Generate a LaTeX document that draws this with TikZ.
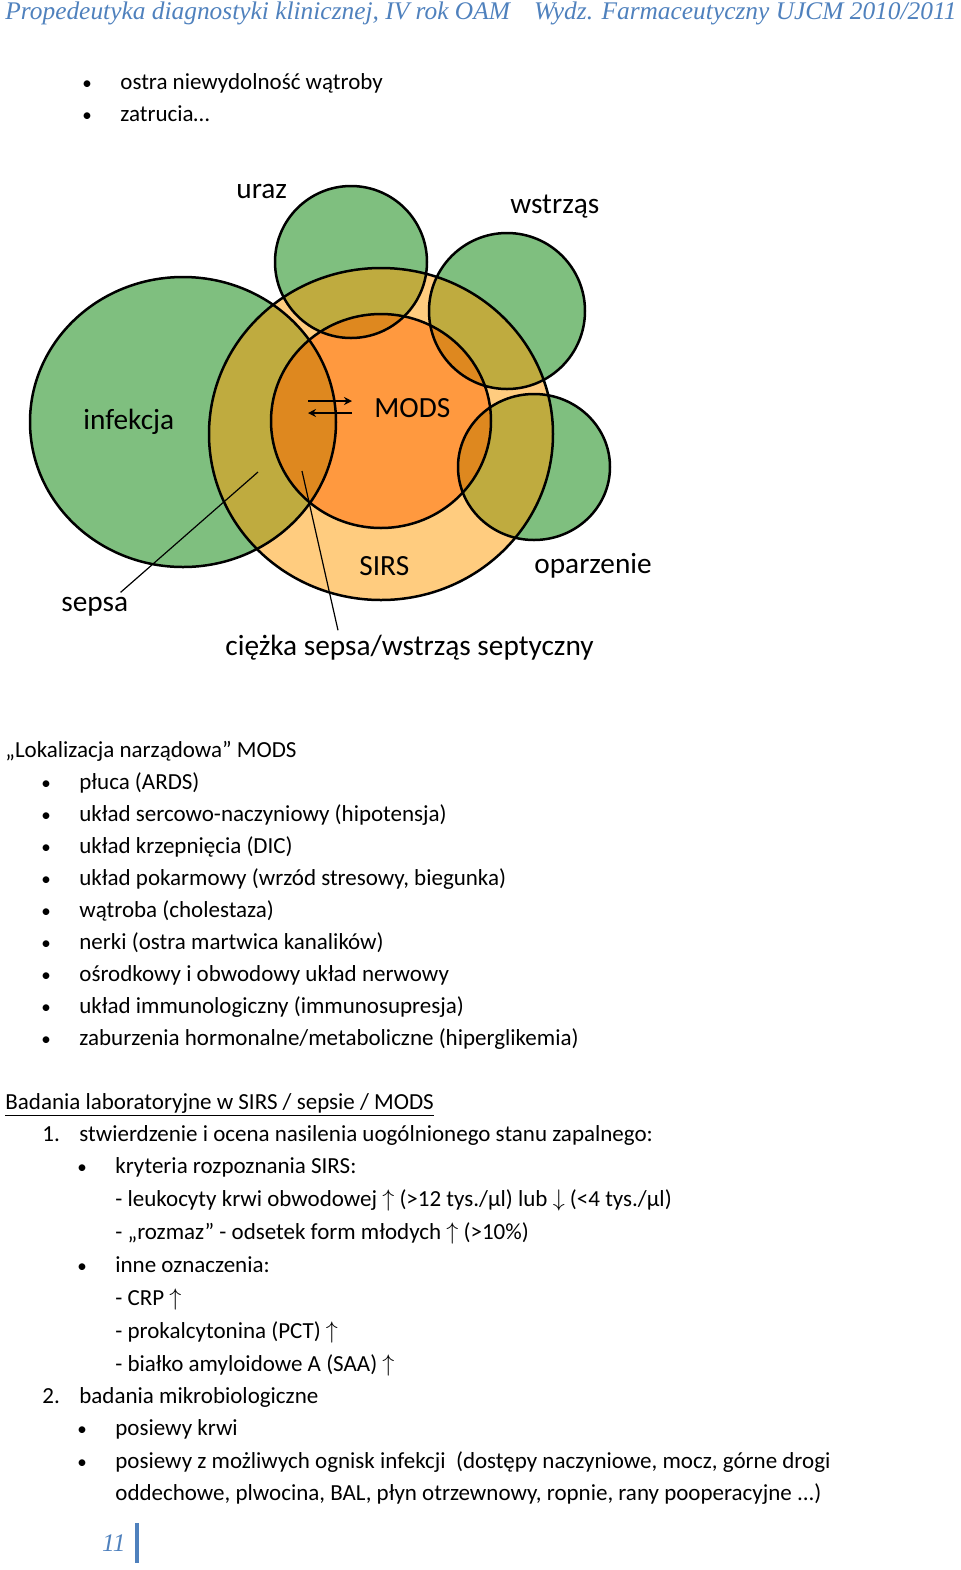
\documentclass[tikz,border=0pt]{standalone}
\usepackage{fontspec}
\setmainfont{Carlito}
\newfontfamily\hdrfont{Liberation Serif}
\usetikzlibrary{arrows.meta,positioning}
\definecolor{hdrblue}{RGB}{79,129,189}
\definecolor{grn}{RGB}{0,128,0}
\definecolor{sirsor}{RGB}{255,153,0}
\definecolor{modsor}{RGB}{255,102,0}

\begin{document}
\begin{tikzpicture}[x=0.5pt,y=-0.5pt,
  txt/.style={anchor=base west,inner sep=0pt,font=\fontsize{11.5}{13}\selectfont},
  dot/.style={anchor=base west,inner sep=0pt,font=\fontsize{9.5}{11}\selectfont},
  lbl/.style={anchor=base west,inner sep=0pt,font=\fontsize{14.65}{17}\selectfont},
  hdr/.style={inner sep=0pt,text=hdrblue,font=\hdrfont\itshape\fontsize{12.7}{14}\selectfont},
  ring/.style={line width=1.25pt},
  pointer/.style={line width=0.6pt},
  swap arrow/.style={line width=1pt,-{Stealth[length=4pt,width=4pt]}}]
\useasboundingbox (0,0) rectangle (960,1570);

% header
\node[hdr,anchor=base west] (hdrL) at (5,19) {Propedeutyka diagnostyki klinicznej, IV rok OAM};
\node[hdr,anchor=base east] (hdrR) at (957,19) {Wydz. Farmaceutyczny UJCM 2010/2011};

% top list
\node[dot] (b1) at (82,89) {•};   \node[txt] (t1) at (120,89) {ostra niewydolność wątroby};
\node[dot] (b2) at (82,121) {•};  \node[txt] (t2) at (120,121) {zatrucia…};

% circles
\coordinate (uraz) at (351,262);
\coordinate (wstrzas) at (507,311);
\coordinate (infekcja) at (183,422);
\coordinate (oparzenie) at (534,467);
\coordinate (sirs) at (381,434);
\coordinate (mods) at (381,421);
\fill[grn,fill opacity=0.5] (uraz) circle [radius=76];
\fill[grn,fill opacity=0.5] (wstrzas) circle [radius=78];
\fill[grn,fill opacity=0.5] (infekcja) ellipse [x radius=153,y radius=145];
\fill[grn,fill opacity=0.5] (oparzenie) ellipse [x radius=76,y radius=73];
\fill[sirsor,fill opacity=0.5] (sirs) ellipse [x radius=172,y radius=166];
\fill[modsor,fill opacity=0.5] (mods) ellipse [x radius=110,y radius=107];
\draw[ring] (uraz) circle [radius=76];
\draw[ring] (wstrzas) circle [radius=78];
\draw[ring] (infekcja) ellipse [x radius=153,y radius=145];
\draw[ring] (oparzenie) ellipse [x radius=76,y radius=73];
\draw[ring] (sirs) ellipse [x radius=172,y radius=166];
\draw[ring] (mods) ellipse [x radius=110,y radius=107];

% labels
\node[lbl] (l_uraz) at (236,198) {uraz};
\node[lbl] (l_wstrzas) at (510,213) {wstrząs};
\node[lbl] (l_infekcja) at (83,429) {infekcja};
\node[lbl] (l_mods) at (374,417) {MODS};
\node[lbl] (l_sirs) at (359,575) {SIRS};
\node[lbl] (l_oparzenie) at (534,573) {oparzenie};
\node[lbl] (l_sepsa) at (61,611) {sepsa};
\node[lbl] (l_ciezka) at (225,655) {ciężka sepsa/wstrząs septyczny};
\coordinate (p_sepsa) at (258,472);
\coordinate (p_ciezka) at (302,471);
\coordinate (a_left) at (308,401);
\coordinate (a_right) at (352,401);
\coordinate (b_left) at (308,413);
\coordinate (b_right) at (352,413);
\draw[pointer] ([xshift=-4pt,yshift=2pt]l_sepsa.north east) -- (p_sepsa);
\draw[pointer] ([xshift=56.5pt,yshift=2pt]l_ciezka.north west) -- (p_ciezka);
\draw[swap arrow] (a_left) -- (a_right);
\draw[swap arrow] (b_right) -- (b_left);

% MODS organs
\node[txt] (h1) at (5,757) {„Lokalizacja narządowa” MODS};
\node[dot] at (41,789) {•};  \node[txt] (o1) at (79,789) {płuca (ARDS)};
\node[dot] at (41,821) {•};  \node[txt] (o2) at (79,821) {układ sercowo-naczyniowy (hipotensja)};
\node[dot] at (41,853) {•};  \node[txt] (o3) at (79,853) {układ krzepnięcia (DIC)};
\node[dot] at (41,885) {•};  \node[txt] (o4) at (79,885) {układ pokarmowy (wrzód stresowy, biegunka)};
\node[dot] at (41,917) {•};  \node[txt] (o5) at (79,917) {wątroba (cholestaza)};
\node[dot] at (41,949) {•};  \node[txt] (o6) at (79,949) {nerki (ostra martwica kanalików)};
\node[dot] at (41,981) {•};  \node[txt] (o7) at (79,981) {ośrodkowy i obwodowy układ nerwowy};
\node[dot] at (41,1013) {•}; \node[txt] (o8) at (79,1013) {układ immunologiczny (immunosupresja)};
\node[dot] at (41,1045) {•}; \node[txt] (o9) at (79,1045) {zaburzenia hormonalne/metaboliczne (hiperglikemia)};

% lab tests
\node[txt] (h2) at (5,1109) {\underline{Badania laboratoryjne w SIRS / sepsie / MODS}};
\node[txt] at (42,1141) {1.};  \node[txt] (s1) at (79,1141) {stwierdzenie i ocena nasilenia uogólnionego stanu zapalnego:};
\node[dot] at (77,1173) {•};   \node[txt] (s2) at (115,1173) {kryteria rozpoznania SIRS:};
\node[txt] (s3) at (115,1206) {- leukocyty krwi obwodowej $\uparrow$ (>12 tys./µl) lub $\downarrow$ (<4 tys./µl)};
\node[txt] (s4) at (115,1239) {- „rozmaz” - odsetek form młodych $\uparrow$ (>10\%)};
\node[dot] at (77,1272) {•};   \node[txt] (s5) at (115,1272) {inne oznaczenia:};
\node[txt] (s6) at (115,1305) {- CRP $\uparrow$};
\node[txt] (s7) at (115,1338) {- prokalcytonina (PCT) $\uparrow$};
\node[txt] (s8) at (115,1371) {- białko amyloidowe A (SAA) $\uparrow$};
\node[txt] at (42,1403) {2.};  \node[txt] (m1) at (79,1403) {badania mikrobiologiczne};
\node[dot] at (77,1435) {•};   \node[txt] (m2) at (115,1435) {posiewy krwi};
\node[dot] at (77,1468) {•};   \node[txt] (m3) at (115,1468) {posiewy z możliwych ognisk infekcji\ \ (dostępy naczyniowe, mocz, górne drogi};
\node[txt] (m4) at (115,1500) {oddechowe, plwocina, BAL, płyn otrzewnowy, ropnie, rany pooperacyjne ...)};

% page number
\node[hdr,anchor=base east] (pg) at (126,1551) {11};
\draw[hdrblue,line width=2pt] (137,1523) -- (137,1563);
\end{tikzpicture}
\end{document}
